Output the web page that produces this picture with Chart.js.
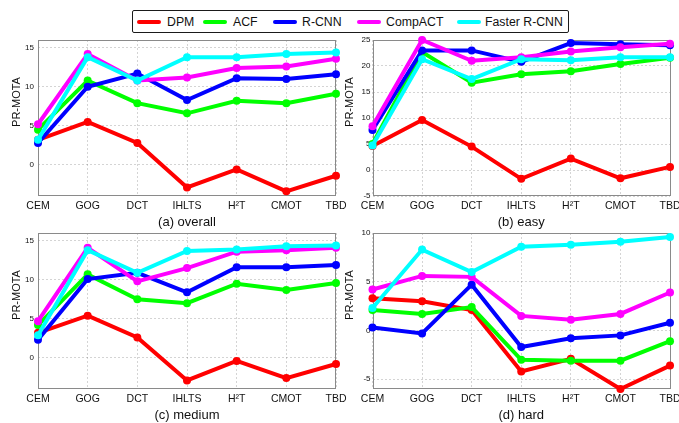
<!DOCTYPE html>
<html>
<head>
<meta charset="utf-8">
<script src="https://cdn.jsdelivr.net/npm/chart.js@4"></script>
<style>
  html, body { margin: 0; padding: 0; background: #fff; }
  #wrap { position: relative; width: 679px; height: 423px; overflow: hidden; background: #fff;
          font-family: "Liberation Sans", Arial, sans-serif; }
  #wrap canvas { position: absolute; }
  #legend { position: absolute; left: 132px; top: 10px; width: 435px; height: 21px;
            border: 1px solid #1a1a1a; border-radius: 2px; background: #fff; z-index: 5; }
  .item { position: absolute; top: 0; height: 21px; display: flex; align-items: center;
          font-size: 12.3px; color: #111; white-space: nowrap; }
  .sw { display: inline-block; width: 24px; height: 4px; border-radius: 2px; margin-right: 6px; }
</style>
</head>
<body>
<div id="wrap">
  <canvas id="pa"></canvas>
  <canvas id="pb"></canvas>
  <canvas id="pc"></canvas>
  <canvas id="pd"></canvas>
  <div id="legend"></div>
</div>
<script>
// Trackers compared on each detector input
const categories = ['CEM', 'GOG', 'DCT', 'IHLTS', 'H²T', 'CMOT', 'TBD'];
const methods = ['DPM', 'ACF', 'R-CNN', 'CompACT', 'Faster R-CNN'];
const colors = ['#ff0000', '#00ff00', '#0000ff', '#ff00ff', '#00ffff'];

// PR-MOTA, overall
const overallDPM     = [3.2, 5.5, 2.8, -2.9, -0.6, -3.4, -1.4];
const overallACF     = [4.5, 10.8, 7.9, 6.6, 8.2, 7.9, 9.1];
const overallRCNN    = [2.8, 10.0, 11.7, 8.3, 11.1, 11.0, 11.6];
const overallCompACT = [5.2, 14.2, 10.8, 11.2, 12.4, 12.6, 13.6];
const overallFaster  = [3.2, 13.8, 10.8, 13.8, 13.8, 14.2, 14.4];

// PR-MOTA, easy
const easyDPM     = [4.6, 9.6, 4.5, -1.7, 2.2, -1.6, 0.6];
const easyACF     = [5.0, 22.7, 16.8, 18.4, 19.0, 20.4, 21.6];
const easyRCNN    = [7.7, 23.0, 23.0, 20.8, 24.4, 24.2, 24.0];
const easyCompACT = [8.4, 25.0, 21.0, 21.7, 22.8, 23.6, 24.3];
const easyFaster  = [4.7, 21.3, 17.5, 21.3, 21.1, 21.7, 21.7];

// PR-MOTA, medium
const mediumDPM     = [3.2, 5.4, 2.6, -2.9, -0.4, -2.6, -0.8];
const mediumACF     = [4.2, 10.7, 7.5, 7.0, 9.5, 8.7, 9.6];
const mediumRCNN    = [2.3, 10.1, 10.9, 8.4, 11.6, 11.6, 11.9];
const mediumCompACT = [4.7, 14.1, 9.8, 11.5, 13.6, 13.8, 14.1];
const mediumFaster  = [2.9, 13.8, 10.9, 13.7, 13.9, 14.3, 14.4];

// PR-MOTA, hard
const hardDPM     = [3.3, 3.0, 2.1, -4.2, -2.9, -6.0, -3.6];
const hardACF     = [2.1, 1.7, 2.4, -3.0, -3.1, -3.1, -1.1];
const hardRCNN    = [0.3, -0.3, 4.7, -1.7, -0.8, -0.5, 0.8];
const hardCompACT = [4.2, 5.6, 5.5, 1.5, 1.1, 1.7, 3.9];
const hardFaster  = [2.3, 8.3, 6.0, 8.6, 8.8, 9.1, 9.6];

// y-axis tick labels per panel
const ticksOverall = [0, 5, 10, 15];
const ticksEasy    = [-5, 0, 5, 10, 15, 20, 25];
const ticksMedium  = [0, 5, 10, 15];
const ticksHard    = [-5, 0, 5, 10];

const FONT = '"Liberation Sans", Arial, sans-serif';
const Y_TITLE = 'PR-MOTA';

// legend
const legendLayout = [
  { sw: 4,   tx: 34 },
  { sw: 70,  tx: 100 },
  { sw: 140, tx: 169 },
  { sw: 224, tx: 253 },
  { sw: 324, tx: 352 }
];
const legendEl = document.getElementById('legend');
methods.forEach((m, i) => {
  const s = document.createElement('span');
  s.className = 'item';
  s.style.left = legendLayout[i].sw + 'px';
  s.innerHTML = '<span class="sw" style="background:' + colors[i] + '"></span>';
  legendEl.appendChild(s);
  const t = document.createElement('span');
  t.className = 'item';
  t.style.left = legendLayout[i].tx + 'px';
  t.textContent = m;
  legendEl.appendChild(t);
});

// box around each plot area
const framePlugin = {
  id: 'frame',
  beforeDatasetsDraw(chart) {
    const { ctx, chartArea: a } = chart;
    ctx.save();
    ctx.strokeStyle = '#8a8a8a';
    ctx.lineWidth = 1;
    ctx.strokeRect(Math.round(a.left) + 0.5, Math.round(a.top) + 0.5,
                   Math.round(a.right - a.left) - 1, Math.round(a.bottom - a.top) - 1);
    ctx.restore();
  }
};

// rotated y-axis label, placed a little above the middle of the plot
const yLabelPlugin = {
  id: 'ylab',
  afterDraw(chart, args, opts) {
    const { ctx, chartArea: a } = chart;
    ctx.save();
    ctx.translate(opts.x, (a.top + a.bottom) / 2 + opts.dy);
    ctx.rotate(-Math.PI / 2);
    ctx.font = '11px ' + FONT;
    ctx.fillStyle = '#111';
    ctx.textAlign = 'center';
    ctx.textBaseline = 'middle';
    ctx.fillText(Y_TITLE, 0, 0);
    ctx.restore();
  }
};

function makePanel(id, box, series, yMin, yMax, yTicks, title, yAxisWidth, yTitleX, yTickPad, rightPad) {
  const cv = document.getElementById(id);
  cv.width = box.w; cv.height = box.h;
  cv.style.left = box.x + 'px'; cv.style.top = box.y + 'px';
  cv.style.width = box.w + 'px'; cv.style.height = box.h + 'px';

  const datasets = series.map((d, i) => ({
    label: methods[i],
    data: d,
    borderColor: colors[i],
    backgroundColor: colors[i],
    pointBackgroundColor: colors[i],
    pointBorderWidth: 0,
    pointRadius: 4,
    borderWidth: 4,
    tension: 0,
    clip: 8,
    order: series.length - 1 - i
  }));

  return new Chart(cv, {
    type: 'line',
    data: { labels: categories, datasets },
    options: {
      responsive: false,
      animation: false,
      devicePixelRatio: 1,
      layout: { padding: { left: 0, top: 10, right: rightPad, bottom: 0 } },
      plugins: {
        legend: { display: false },
        tooltip: { enabled: false },
        ylab: { x: yTitleX, dy: -16 }
      },
      scales: {
        x: {
          type: 'category',
          offset: false,
          grid: { color: 'rgba(0,0,0,0.17)', drawTicks: false },
          border: { display: false, dash: [2, 2] },
          ticks: { autoSkip: false, maxRotation: 0, padding: 4, color: '#111',
                   font: { family: FONT, size: 10.5 } },
          title: { display: true, text: title, color: '#111', padding: { top: 0, bottom: 0 },
                   font: { family: FONT, size: 13 } },
          afterFit(s) { s.height = 34; s.paddingLeft = 0; s.paddingRight = 0; }
        },
        y: {
          min: yMin, max: yMax,
          grid: { color: 'rgba(0,0,0,0.17)', drawTicks: false },
          border: { display: false, dash: [2, 2] },
          ticks: { autoSkip: false, padding: yTickPad, color: '#111', font: { family: FONT, size: 8 } },
          afterBuildTicks(s) { s.ticks = yTicks.map(v => ({ value: v })); },
          afterFit(s) { s.width = yAxisWidth; s.paddingTop = 0; s.paddingBottom = 0; }
        }
      }
    },
    plugins: [framePlugin, yLabelPlugin]
  });
}

makePanel('pa', { x: 0, y: 30, w: 350, h: 200 },
  [overallDPM, overallACF, overallRCNN, overallCompACT, overallFaster],
  -4, 16, ticksOverall, '(a) overall', 38, 16.7, 4, 14);
makePanel('pb', { x: 340, y: 30, w: 339, h: 200 },
  [easyDPM, easyACF, easyRCNN, easyCompACT, easyFaster],
  -5, 25, ticksEasy, '(b) easy', 32.5, 10, 2, 9);
makePanel('pc', { x: 0, y: 223, w: 350, h: 200 },
  [mediumDPM, mediumACF, mediumRCNN, mediumCompACT, mediumFaster],
  -4, 16, ticksMedium, '(c) medium', 38, 16.7, 4, 14);
makePanel('pd', { x: 340, y: 223, w: 339, h: 200 },
  [hardDPM, hardACF, hardRCNN, hardCompACT, hardFaster],
  -6, 10, ticksHard, '(d) hard', 32.5, 10, 2, 9);
</script>
</body>
</html>
